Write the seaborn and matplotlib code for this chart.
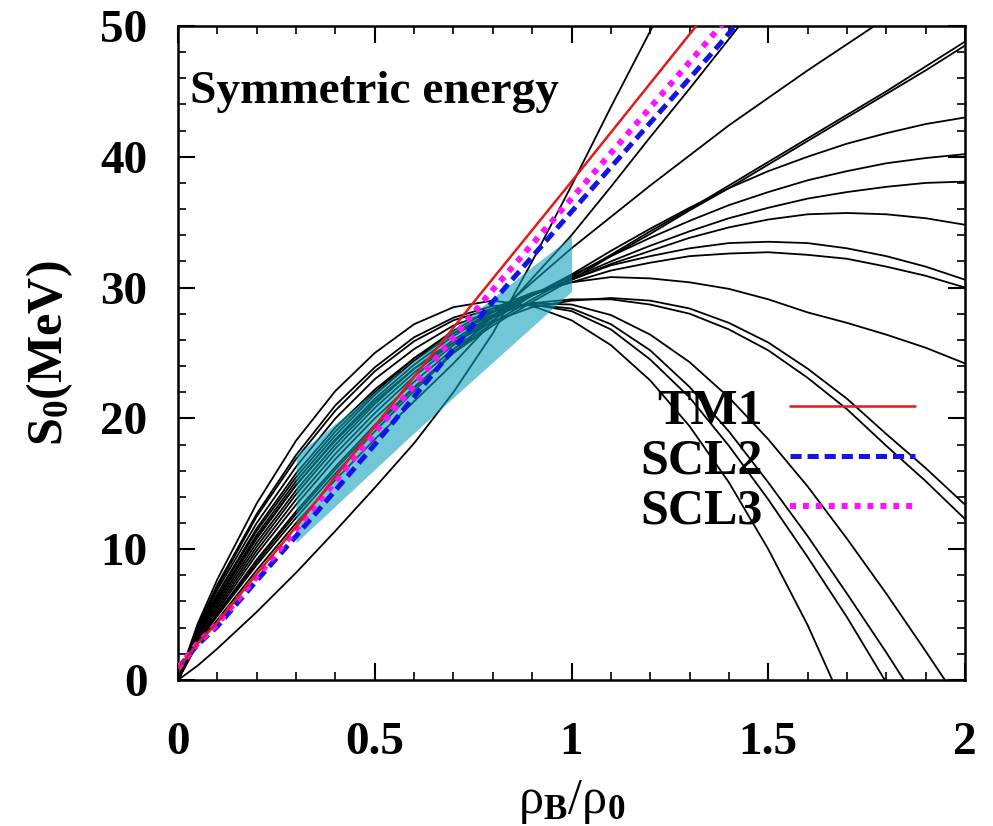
import numpy as np
import pandas as pd
import matplotlib
matplotlib.use("Agg")
import matplotlib.pyplot as plt
import seaborn as sns
from matplotlib.lines import Line2D
from matplotlib.ticker import MultipleLocator

# ---------------- data ----------------
rho = [0, 0.05, 0.1, 0.2, 0.3, 0.4, 0.5, 0.6, 0.7, 0.8, 0.9, 1.0,
       1.1, 1.2, 1.3, 1.4, 1.5, 1.6, 1.7, 1.8, 1.9, 2.0]
nan = np.nan
sky_D1 = [0, 4.3, 7.7, 13.5, 18.3, 22.1, 25.0, 27.2, 28.5, 29.0, 28.6, 27.5, 25.6, 22.9, 19.4, 15.1, 10.0, 4.2, -2.5, nan, nan, nan]
sky_D2 = [0, 4.1, 7.3, 12.7, 17.2, 21.0, 23.9, 26.2, 27.7, 28.6, 28.7, 28.2, 26.8, 24.5, 21.6, 17.9, 13.8, 9.4, 4.8, -0.2, -5.4, nan]
sky_D3 = [0, 4.0, 7.1, 12.5, 16.9, 20.6, 23.6, 25.9, 27.5, 28.4, 28.7, 28.4, 27.2, 25.2, 22.4, 19.0, 15.1, 11.0, 6.6, 2.1, -2.6, nan]
sky_D4 = [0, 3.9, 6.9, 12.0, 16.3, 20.0, 23.0, 25.3, 27.1, 28.2, 28.8, 28.7, 27.9, 26.4, 24.3, 21.6, 18.4, 14.8, 10.8, 6.6, 2.2, -2.3]
sky_R13 = [0, 3.8, 6.6, 11.6, 15.8, 19.3, 22.2, 24.6, 26.5, 27.9, 28.8, 29.1, 29.1, 28.7, 28.0, 26.8, 25.2, 23.1, 20.7, 17.9, 15.2, 12.3]
sky_R12 = [0, 3.6, 6.2, 10.9, 14.9, 18.3, 21.3, 23.8, 25.8, 27.4, 28.5, 29.0, 29.2, 29.0, 28.4, 27.3, 25.8, 23.8, 21.5, 18.8, 16.2, 13.4]
sky_R11 = [0, 3.8, 6.5, 11.4, 15.5, 19.0, 22.0, 24.6, 26.7, 28.4, 29.6, 30.4, 30.8, 30.7, 30.4, 29.9, 29.1, 28.1, 27.3, 26.4, 25.4, 24.2]
sky_R10 = [0, 3.7, 6.3, 11.1, 15.2, 18.7, 21.8, 24.4, 26.5, 28.2, 29.5, 30.4, 31.3, 31.9, 32.4, 32.6, 32.7, 32.5, 32.2, 31.6, 30.9, 30.0]
sky_R9 = [0, 3.6, 6.1, 10.8, 14.9, 18.4, 21.5, 24.1, 26.3, 28.1, 29.5, 30.6, 31.7, 32.4, 33.0, 33.4, 33.5, 33.4, 33.0, 32.4, 31.6, 30.6]
sky_R8 = [0, 3.5, 5.9, 10.5, 14.5, 18.0, 21.1, 23.8, 26.0, 27.9, 29.4, 30.6, 31.8, 32.8, 33.8, 34.6, 35.2, 35.6, 35.7, 35.6, 35.3, 34.8]
sky_R7 = [0, 3.4, 5.7, 10.2, 14.2, 17.7, 20.8, 23.5, 25.8, 27.8, 29.4, 30.7, 32.0, 33.2, 34.3, 35.3, 36.1, 36.8, 37.3, 37.7, 38.0, 38.1]
sky_R6 = [0, 3.3, 5.5, 9.9, 13.8, 17.3, 20.4, 23.2, 25.6, 27.7, 29.4, 30.9, 32.4, 33.8, 35.1, 36.3, 37.3, 38.2, 38.9, 39.5, 39.9, 40.2]
sky_R5 = [0, 3.2, 5.3, 9.6, 13.4, 16.9, 20.0, 22.8, 25.3, 27.5, 29.4, 31.0, 32.8, 34.5, 36.1, 37.6, 38.9, 40.0, 41.0, 41.8, 42.5, 43.0]
sky_R4b = [0, 3.0, 5.1, 9.2, 12.9, 16.3, 19.5, 22.4, 25.0, 27.1, 28.9, 30.6, 32.4, 34.1, 35.9, 37.6, 39.4, 41.2, 43.0, 44.8, 46.6, 48.5]
sky_R4a = [0, 3.0, 5.0, 9.0, 12.7, 16.1, 19.3, 22.3, 25.1, 27.3, 29.1, 30.8, 32.5, 34.3, 36.0, 37.8, 39.6, 41.4, 43.2, 45.0, 46.9, 48.8]
sky_R3 = [0, 2.9, 4.9, 8.8, 12.4, 15.8, 19.0, 22.1, 25.0, 27.8, 30.4, 33.0, 35.4, 37.8, 40.1, 42.4, 44.5, 46.6, 48.6, 50.6, 52.5, 54.4]
sky_R2 = [0, 2.8, 4.6, 8.4, 12.0, 15.3, 18.4, 21.3, 24.2, 27.4, 30.7, 34.0, 37.7, 41.5, 45.2, 49.0, 52.8, 56.6, nan, nan, nan, nan]
sky_C1 = [0, 1.1, 2.4, 5.2, 8.2, 11.4, 14.7, 18.1, 22.0, 26.5, 32.0, 37.8, 43.8, 49.6, 55.5, nan, nan, nan, nan, nan, nan, nan]

tm1_x = [0, 0.05, 0.1, 0.2, 0.3, 0.5, 0.76, 1.0, 1.309, 1.4]
tm1_y = [0.9, 2.8, 4.4, 8.1, 11.7, 19.4, 29.2, 38.1, 49.7, 53.1]
scl2_x = [0, 0.05, 0.1, 0.2, 0.3, 0.5, 0.785, 1.0, 1.365, 1.45]
scl2_y = [0.9, 2.7, 4.1, 7.6, 11.0, 18.0, 28.4, 35.8, 48.2, 51.2]
scl3_x = [0, 0.05, 0.1, 0.2, 0.3, 0.5, 0.785, 1.0, 1.365, 1.45]
scl3_y = [0.9, 2.8, 4.3, 7.9, 11.5, 18.9, 29.3, 36.8, 49.5, 52.5]

band_x = [0.3, 0.4, 0.5, 0.6, 0.7, 0.8, 0.9, 1.0]
band_hi = [17.2, 19.6, 22.0, 24.4, 26.8, 29.2, 31.6, 33.9]
band_lo = [10.5, 13.3, 16.1, 18.9, 21.6, 24.3, 27.0, 29.7]

legend_labels = ["TM1", "SCL2", "SCL3"]
xtick_vals = [0, 0.5, 1, 1.5, 2]
xtick_labels = ["0", "0.5", "1", "1.5", "2"]
ytick_vals = [0, 10, 20, 30, 40, 50]

# ---------------- style ----------------
sns.set_theme(style="ticks")
plt.rcParams["font.family"] = ["Liberation Serif", "DejaVu Serif"]
plt.rcParams["font.weight"] = "bold"
plt.rcParams["text.color"] = "black"
plt.rcParams["axes.labelcolor"] = "black"
plt.rcParams["xtick.color"] = "black"
plt.rcParams["ytick.color"] = "black"
plt.rcParams["mathtext.fontset"] = "custom"
plt.rcParams["mathtext.rm"] = "Liberation Serif:bold"
plt.rcParams["mathtext.it"] = "Liberation Serif:bold"
plt.rcParams["mathtext.bf"] = "Liberation Serif:bold"
plt.rcParams["mathtext.default"] = "rm"
plt.rcParams["lines.scale_dashes"] = False

fig = plt.figure(figsize=(9.93, 8.26), dpi=100)
ax = fig.add_axes([0.1793, 0.1768, 0.7925, 0.7918])

curves = {
    "D1": sky_D1, "D2": sky_D2, "D3": sky_D3, "D4": sky_D4,
    "R13": sky_R13, "R12": sky_R12, "R11": sky_R11, "R10": sky_R10,
    "R9": sky_R9, "R8": sky_R8, "R7": sky_R7, "R6": sky_R6, "R5": sky_R5,
    "R4b": sky_R4b, "R4a": sky_R4a, "R3": sky_R3, "R2": sky_R2, "C1": sky_C1,
}
rows = []
for name, vals in curves.items():
    for xv, yv in zip(rho, vals):
        rows.append((name, xv, yv))
df = pd.DataFrame(rows, columns=["curve", "rho", "S"]).dropna()

sns.lineplot(data=df, x="rho", y="S", units="curve", estimator=None,
             color="black", lw=1.3, ax=ax, legend=False, zorder=2)

ax.fill_between(band_x, band_lo, band_hi, color="#0aa0b8", alpha=0.58,
                lw=0, zorder=2.5)

red = "#e01b1b"
blue = "#1414e6"
mag = "#ff10ff"
sns.lineplot(x=tm1_x, y=tm1_y, color=red, lw=1.8, ax=ax, zorder=3.2)
sns.lineplot(x=scl2_x, y=scl2_y, color=blue, lw=3.6, ax=ax, zorder=3.0)
ax.get_lines()[-1].set_dashes((8, 4.3))
sns.lineplot(x=scl3_x, y=scl3_y, color=mag, lw=4.3, ax=ax, zorder=3.1)
ax.get_lines()[-1].set_dashes((4.3, 5.0))
for ln in ax.get_lines()[-3:]:
    ln.set_solid_capstyle("butt")
    ln.set_dash_capstyle("butt")

h1 = Line2D([], [], color=red, lw=1.8)
h2 = Line2D([], [], color=blue, lw=3.6, dashes=(8, 4.3), dash_capstyle="butt")
h3 = Line2D([], [], color=mag, lw=4.3, dashes=(4.3, 5.0), dash_capstyle="butt")
ax.legend([h1, h2, h3], legend_labels, loc="upper right",
          bbox_to_anchor=(0.9365, 0.445), markerfirst=False, frameon=False,
          prop={"family": "Liberation Serif", "weight": "bold", "size": 36},
          handlelength=2.5, handletextpad=0.55, labelspacing=0.08,
          borderaxespad=0, borderpad=0, labelcolor="black")

ax.text(0.015, 0.882, "Symmetric energy", transform=ax.transAxes,
        fontsize=34, fontweight="bold", va="baseline", ha="left",
        color="black")

ax.set_xlim(0, 2)
ax.set_ylim(0, 50)
ax.set_xticks(xtick_vals)
ax.set_xticklabels(xtick_labels)
ax.set_yticks(ytick_vals)
ax.xaxis.set_minor_locator(MultipleLocator(0.1))
ax.yaxis.set_minor_locator(MultipleLocator(2))
ax.tick_params(which="both", direction="in", top=True, right=True,
               colors="black", labelcolor="black")
ax.tick_params(which="major", length=12, width=1.5, labelsize=34)
ax.tick_params(which="minor", length=6, width=1.2)
ax.tick_params(axis="x", pad=30)
ax.tick_params(axis="y", pad=22)
for sp in ax.spines.values():
    sp.set_linewidth(1.8)
    sp.set_color("black")

ax.set_xlabel(r"ρ$_\mathrm{B}$/ρ$_\mathrm{0}$", fontsize=36,
              fontweight="normal", labelpad=10, color="black")
ax.set_ylabel(r"S$_\mathrm{0}$(MeV)", fontsize=36, fontweight="bold",
              labelpad=18, color="black")

fig.savefig("out.png", dpi=100)
